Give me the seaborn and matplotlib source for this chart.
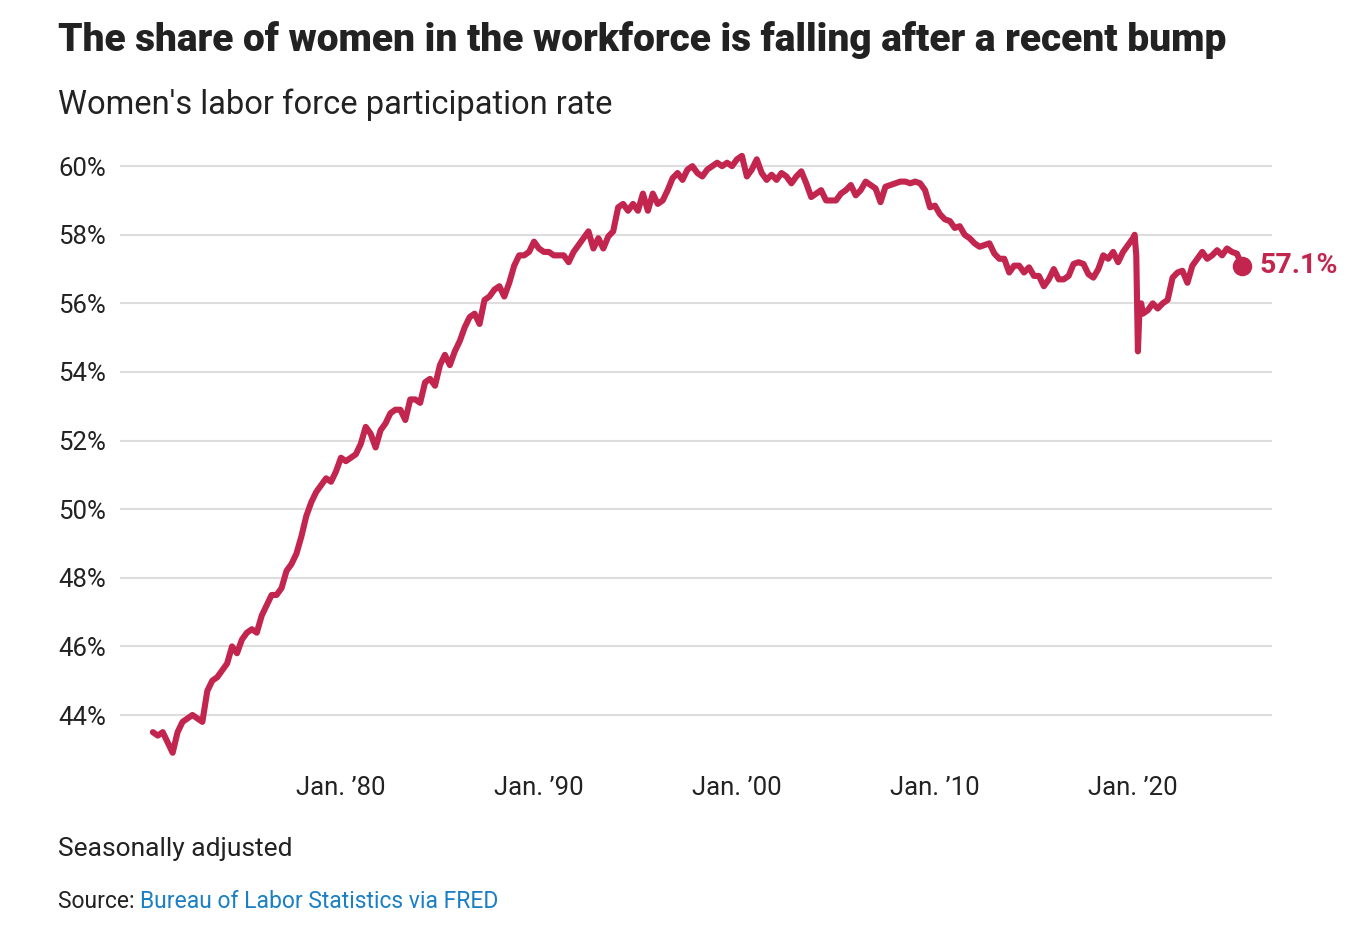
import pandas as pd
import seaborn as sns
import matplotlib.pyplot as plt

# Women's labor force participation rate (%)
# quarterly readings: Jan, Apr, Jul, Oct  (first year starts in Jul)
rate_1970s = [43.5, 43.4,
              43.5, 43.2, 42.9, 43.5,
              43.8, 43.9, 44.0, 43.9,
              43.8, 44.7, 45.0, 45.1,
              45.3, 45.5, 46.0, 45.8,
              46.2, 46.4, 46.5, 46.4,
              46.9, 47.2, 47.5, 47.5,
              47.7, 48.2, 48.4, 48.7,
              49.2, 49.8, 50.2, 50.5,
              50.7, 50.9, 50.8, 51.1]
rate_1980s = [51.5, 51.4, 51.5, 51.6,
              51.9, 52.4, 52.2, 51.8,
              52.3, 52.5, 52.8, 52.9,
              52.9, 52.6, 53.2, 53.2,
              53.1, 53.7, 53.8, 53.6,
              54.2, 54.5, 54.2, 54.6,
              54.9, 55.3, 55.6, 55.7,
              55.4, 56.1, 56.2, 56.4,
              56.5, 56.2, 56.6, 57.1,
              57.4, 57.4, 57.5, 57.8]
rate_1990s = [57.6, 57.5, 57.5, 57.4,
              57.4, 57.4, 57.2, 57.5,
              57.7, 57.9, 58.1, 57.6,
              57.9, 57.6, 57.95, 58.1,
              58.8, 58.9, 58.7, 58.9,
              58.7, 59.2, 58.7, 59.2,
              58.9, 59.0, 59.3, 59.65,
              59.8, 59.6, 59.9, 60.0,
              59.8, 59.7, 59.9, 60.0,
              60.1, 60.0, 60.1, 60.0]
rate_2000s = [60.2, 60.3, 59.7, 59.9,
              60.2, 59.8, 59.6, 59.75,
              59.6, 59.8, 59.7, 59.5,
              59.7, 59.85, 59.5, 59.1,
              59.2, 59.3, 59.0, 59.0,
              59.0, 59.2, 59.3, 59.45,
              59.15, 59.3, 59.55, 59.45,
              59.35, 58.95, 59.4, 59.45,
              59.5, 59.55, 59.55, 59.5,
              59.55, 59.5, 59.3, 58.8]
rate_2010s = [58.85, 58.6, 58.45, 58.4,
              58.2, 58.25, 58.0, 57.9,
              57.75, 57.65, 57.7, 57.75,
              57.45, 57.3, 57.3, 56.9,
              57.1, 57.1, 56.9, 57.05,
              56.8, 56.8, 56.5, 56.7,
              57.0, 56.7, 56.7, 56.8,
              57.15, 57.2, 57.15, 56.85,
              56.75, 57.0, 57.4, 57.3,
              57.5, 57.2, 57.5, 57.7]
rate_2020s = [57.9, 54.6, 55.7, 55.8,
              56.0, 55.85, 56.0, 56.1,
              56.75, 56.9, 56.95, 56.6,
              57.1, 57.3, 57.5, 57.3,
              57.4, 57.55, 57.4, 57.6,
              57.5, 57.45, 57.1]

# extra monthly readings around the 2020 drop
covid_months = ["2020-02-01", "2020-03-01", "2020-05-01", "2020-06-01"]
covid_rate = [58.0, 57.4, 55.9, 56.0]

y_ticks = [44, 46, 48, 50, 52, 54, 56, 58, 60]
x_ticks = [1980, 1990, 2000, 2010, 2020]
x_labels = ["Jan. \u201980", "Jan. \u201990", "Jan. \u201900", "Jan. \u201910", "Jan. \u201920"]

RED = "#c2264f"
INK = "#222222"
BLUE = "#1a7fc4"

quarters = pd.date_range("1970-07-01", "2025-07-01", freq="3MS")
rate = rate_1970s + rate_1980s + rate_1990s + rate_2000s + rate_2010s + rate_2020s
df = pd.concat([
    pd.DataFrame({"date": quarters, "rate": rate}),
    pd.DataFrame({"date": pd.to_datetime(covid_months), "rate": covid_rate}),
]).sort_values("date")
df["year"] = df["date"].dt.year + (df["date"].dt.month - 1) / 12

sns.set_theme(style="white")
plt.rcParams["font.family"] = ["Roboto", "DejaVu Sans"]
plt.rcParams["text.color"] = INK

fig = plt.figure(figsize=(13.68, 9.36), dpi=100)
ax = fig.add_axes([0.0877, 0.1848, 0.8421, 0.656])

sns.lineplot(data=df, x="year", y="rate", color=RED, linewidth=4.4, ax=ax,
             solid_capstyle="round", solid_joinstyle="round")
last = df.iloc[-1]
ax.scatter([last["year"]], [last["rate"]], s=170, color=RED, zorder=5)
ax.annotate(f"{last['rate']:.1f}%", (last["year"], last["rate"]),
            xytext=(13, 0), textcoords="offset points", va="center", ha="left",
            color=RED, fontsize=20.5, fontweight="bold")

ax.set_xlim(1968.84, 2027.02)
ax.set_ylim(42.6, 60.5)
ax.set_yticks(y_ticks)
ax.set_yticklabels([f"{t}%" for t in y_ticks])
ax.set_xticks(x_ticks)
ax.set_xticklabels(x_labels)
ax.grid(axis="y", color="#dddddd", linewidth=1.5)
ax.grid(axis="x", visible=False)
ax.set_axisbelow(True)
for s in ax.spines.values():
    s.set_visible(False)
ax.tick_params(axis="both", length=0, labelsize=18.5, labelcolor=INK)
ax.tick_params(axis="y", pad=44.6)
for lab in ax.get_yticklabels():
    lab.set_horizontalalignment("left")
ax.tick_params(axis="x", pad=9)
ax.set_xlabel("")
ax.set_ylabel("")

fig.text(58 / 1368, 1 - 40 / 936,
         "The share of women in the workforce is falling after a recent bump",
         fontsize=28, fontweight="heavy", va="center", ha="left", color=INK)
fig.text(58 / 1368, 1 - 105 / 936, "Women's labor force participation rate",
         fontsize=23.5, va="center", ha="left", color=INK)
fig.text(58 / 1368, 1 - 849 / 936, "Seasonally adjusted",
         fontsize=19, va="center", ha="left", color=INK)
src = fig.text(58 / 1368, 1 - 901 / 936, "Source: ",
               fontsize=16.5, va="center", ha="left", color=INK)
ax.annotate("Bureau of Labor Statistics via FRED", xy=(1, 0.5), xycoords=src,
            va="center", ha="left", fontsize=16.5, color=BLUE)

fig.savefig("out.png", dpi=100, facecolor="white")
